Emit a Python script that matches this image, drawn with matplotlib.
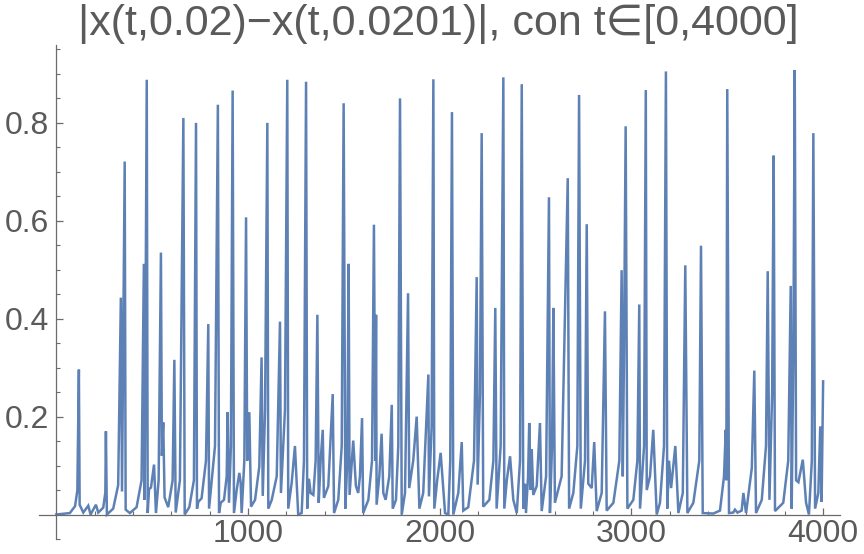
import matplotlib
matplotlib.use("Agg")
import matplotlib.pyplot as plt
import numpy as np

title = "|x(t,0.02)\u2212x(t,0.0201)|, con t\u2208[0,4000]"

t_vals = [0, 71, 98, 110, 118, 122, 141, 167, 179, 207, 219, 245, 256, 259, 264,
          297, 323, 337, 343, 357, 362, 384, 419, 445, 457, 461, 472, 477, 484, 494,
          510, 520, 534, 546, 551, 558, 565, 584, 607, 616, 623, 645, 663, 670, 694,
          718, 729, 734, 741, 758, 781, 793, 797,
          828, 843, 849, 858, 875, 889, 894, 901, 911, 920, 927, 941, 955, 962, 967,
          981, 990, 996, 1007, 1016, 1037, 1059, 1071, 1077, 1089, 1101, 1106, 1124,
          1150, 1167, 1172, 1193, 1205, 1210, 1228, 1245, 1262, 1280, 1292, 1303, 1309,
          1318, 1327, 1341, 1353, 1362, 1369, 1379, 1390, 1396, 1419, 1442, 1449, 1471,
          1489, 1499, 1508, 1518, 1525, 1530, 1549, 1563, 1575,
          1584, 1595, 1601, 1628, 1647, 1657, 1664, 1668, 1671, 1685, 1697, 1706, 1718,
          1737, 1750, 1755, 1772, 1784, 1793, 1802, 1819, 1835, 1841, 1862, 1880, 1894,
          1914, 1941, 1944, 1958, 1967, 1972, 1987, 2005, 2028, 2045, 2055, 2064, 2071,
          2097, 2115, 2123, 2149, 2179, 2193, 2198, 2210, 2219, 2227, 2259, 2280, 2290,
          2297, 2318, 2332, 2337,
          2350, 2367, 2384, 2402, 2419, 2428, 2436, 2445, 2450, 2461, 2467, 2475, 2480,
          2488, 2506, 2523, 2532, 2555, 2570, 2575, 2586, 2593, 2601, 2636, 2668, 2675,
          2697, 2718, 2727, 2736, 2758, 2767, 2775, 2793, 2806, 2819, 2845, 2862, 2871,
          2906, 2937, 2949, 2955, 2961, 2970, 2979, 3010, 3031, 3041, 3045, 3066, 3075,
          3080, 3097, 3114, 3132,
          3149, 3170, 3180, 3187, 3196, 3207, 3229, 3245, 3268, 3281, 3292, 3323, 3354,
          3363, 3372, 3427, 3462, 3483, 3492, 3495, 3500, 3509, 3531, 3540, 3553, 3575,
          3584, 3598, 3628, 3641, 3650, 3680, 3702, 3711, 3720, 3734, 3742, 3749, 3792,
          3818, 3831, 3836, 3845, 3852, 3859, 3871, 3894, 3911, 3926, 3941, 3949, 3958,
          3975, 3985, 3992, 4000]

x_vals = [0.0, 0.003, 0.017, 0.049, 0.296, 0.02, 0.004, 0.018, 0.0, 0.02, 0.004, 0.014, 0.045, 0.17, 0.0,
          0.012, 0.06, 0.443, 0.047, 0.721, 0.01, 0.003, 0.015, 0.07, 0.512, 0.03, 0.888, 0.003, 0.052, 0.055,
          0.102, 0.003, 0.07, 0.535, 0.12, 0.188, 0.035, 0.015, 0.07, 0.316, 0.004, 0.07, 0.81, 0.0, 0.015,
          0.07, 0.80, 0.012, 0.026, 0.033, 0.11, 0.389, 0.012,
          0.14, 0.837, 0.003, 0.024, 0.03, 0.078, 0.209, 0.024, 0.14, 0.866, 0.003, 0.05, 0.085, 0.065, 0.003,
          0.11, 0.607, 0.11, 0.209, 0.016, 0.03, 0.098, 0.321, 0.038, 0.214, 0.80, 0.012, 0.03,
          0.078, 0.394, 0.044, 0.214, 0.888, 0.012, 0.065, 0.14, 0.0, 0.003, 0.11, 0.884, 0.012,
          0.073, 0.044, 0.04, 0.11, 0.408, 0.024, 0.11, 0.173, 0.034, 0.058, 0.246, 0.003, 0.03,
          0.14, 0.84, 0.012, 0.11, 0.512, 0.04, 0.151, 0.058, 0.044,
          0.078, 0.197, 0.003, 0.03, 0.11, 0.592, 0.11, 0.408, 0.02, 0.078, 0.165, 0.044, 0.03,
          0.078, 0.224, 0.012, 0.03, 0.14, 0.85, 0.0, 0.044, 0.452, 0.054, 0.11, 0.2, 0.012,
          0.044, 0.286, 0.037, 0.18, 0.889, 0.012, 0.07, 0.126, 0.003, 0.0, 0.11, 0.822, 0.0,
          0.044, 0.148, 0.008, 0.015, 0.11, 0.485, 0.061, 0.248, 0.779, 0.016, 0.03, 0.11, 0.422,
          0.012, 0.14, 0.893, 0.012,
          0.07, 0.119, 0.03, 0.003, 0.11, 0.879, 0.012, 0.063, 0.003, 0.078, 0.187, 0.05, 0.133,
          0.04, 0.058, 0.187, 0.007, 0.078, 0.648, 0.003, 0.14, 0.422, 0.024, 0.078, 0.687, 0.012,
          0.044, 0.14, 0.857, 0.012, 0.11, 0.593, 0.063, 0.054, 0.148, 0.007, 0.044, 0.415, 0.008,
          0.024, 0.11, 0.499, 0.078, 0.316, 0.793, 0.012, 0.03, 0.11, 0.429, 0.012, 0.14, 0.867,
          0.05, 0.078, 0.173, 0.0,
          0.024, 0.14, 0.905, 0.012, 0.11, 0.054, 0.14, 0.003, 0.044, 0.509, 0.003, 0.024, 0.11,
          0.549, 0.003, 0.002, 0.008, 0.078, 0.173, 0.07, 0.869, 0.003, 0.004, 0.01, 0.004, 0.008,
          0.044, 0.003, 0.095, 0.294, 0.003, 0.03, 0.14, 0.497, 0.03, 0.248, 0.733, 0.007, 0.024,
          0.11, 0.467, 0.012, 0.35, 0.908, 0.07, 0.066, 0.112, 0.024, 0.0, 0.11, 0.779, 0.012,
          0.044, 0.18, 0.026, 0.272]

y_major = [0.2, 0.4, 0.6, 0.8]
y_labels = ["0.2", "0.4", "0.6", "0.8"]
x_major = [1000, 2000, 3000, 4000]
x_labels = ["1000", "2000", "3000", "4000"]

plt.rcParams['font.family'] = ['Liberation Sans', 'DejaVu Sans']

W, H = 864, 554
fig = plt.figure(figsize=(W / 100, H / 100), dpi=100)
ax = fig.add_axes([39 / W, 1 - 539 / H, (840 - 39) / W, (539 - 45) / H])

ax.plot(t_vals, x_vals, color='#5E81B5', lw=1.8, solid_joinstyle='miter')

ax.set_xlim(-90, 4088)
ax.set_ylim(-0.049, 0.959)

axis_col = '#6b6b6b'
for s in ['top', 'right']:
    ax.spines[s].set_visible(False)
ax.spines['left'].set_position(('data', 0))
ax.spines['bottom'].set_position(('data', 0))
for s in ['left', 'bottom']:
    ax.spines[s].set_color(axis_col)
    ax.spines[s].set_linewidth(0.9)

ax.set_xticks(x_major)
ax.set_xticklabels(x_labels)
ax.set_xticks([v for v in range(200, 4001, 200) if v % 1000 != 0], minor=True)
ax.set_yticks(y_major)
ax.set_yticklabels(y_labels)
ax.set_yticks([round(k * 0.05, 2) for k in range(-1, 20) if k % 4 != 0], minor=True)

ax.tick_params(axis='both', which='major', direction='in', length=5, width=0.9,
               color=axis_col, labelcolor='#5a5a5a', labelsize=23)
ax.tick_params(axis='both', which='minor', direction='in', length=3, width=0.8,
               color=axis_col)
ax.tick_params(axis='x', which='major', pad=3)
ax.tick_params(axis='y', which='major', pad=5)

fig.text(0.5 * (80 + 797) / W, 1 - 24 / H, title, ha='center', va='center',
         fontsize=31, color='#5a5a5a')

fig.savefig('out.png', dpi=100)
